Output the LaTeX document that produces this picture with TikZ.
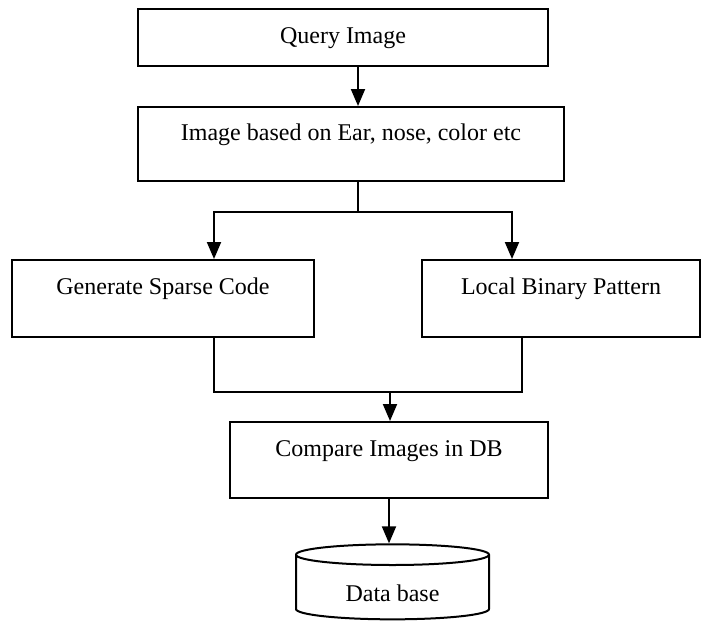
\documentclass[tikz,border=0pt]{standalone}
\usepackage{fontspec}
\setmainfont{Liberation Serif}
\usetikzlibrary{arrows.meta,positioning,shapes.geometric,calc}

\begin{document}
\begin{tikzpicture}[x=0.5pt, y=-0.5pt,
  box/.style={draw, line width=1pt, rectangle, inner sep=0pt,
    font=\fontsize{12}{14}\selectfont, text height=9pt, text depth=3pt},
  raised/.style={text depth=13pt},
  line/.style={line width=1pt},
  arr/.style={line width=1pt, -{Triangle[length=8.5pt, width=7pt]}}]
  \useasboundingbox (0,0) rectangle (702,627);
  % Processing boxes
  \node[box, minimum width=205pt, minimum height=28.5pt] (query) at (343,37.5) {Query Image};
  \node[box, raised, minimum width=213pt, minimum height=37pt] (feat) at (351,144) {Image based on Ear, nose, color etc};
  \node[box, raised, minimum width=151pt, minimum height=38.5pt] (sparse) at (163,298.5) {Generate Sparse Code};
  \node[box, raised, minimum width=139pt, minimum height=38.5pt] (lbp) at (561,298.5) {Local Binary Pattern};
  \node[box, raised, minimum width=159pt, minimum height=38pt] (compare) at (389,460) {Compare Images in DB};
  % Database
  \node[box, shape=cylinder, shape border rotate=90, aspect=0.22,
    minimum width=96.5pt, minimum height=37.5pt, text height=14pt, text depth=0pt] (db) at (392.5,587.5) {Data base};
  % Split and join points
  \coordinate (split) at (358,212);
  \coordinate (join) at (390,392);
  % Connectors
  \draw[arr] (query.south -| split) -- (feat.north -| split);
  \draw[line] (feat.south -| split) -- (split);
  \draw[arr] (split) -| ([xshift=25.5pt]sparse.north);
  \draw[arr] (split) -| ([xshift=-24.5pt]lbp.north);
  \draw[line] ([xshift=25.5pt]sparse.south) |- (join);
  \draw[line] ([xshift=-19.5pt]lbp.south) |- (join);
  \draw[arr] (join) -- (join |- compare.north);
  \draw[arr] (compare.south) -- (compare.south |- db.north);
\end{tikzpicture}
\end{document}
